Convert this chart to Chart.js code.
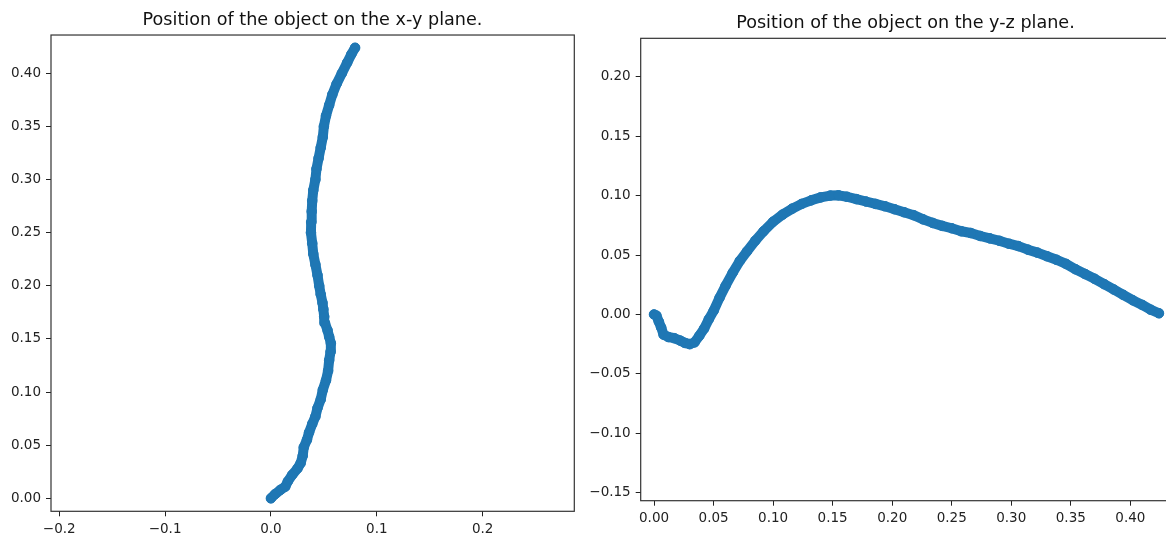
<!DOCTYPE html>
<html>
<head>
<meta charset="utf-8">
<title>Position of the object</title>
<script src="https://cdn.jsdelivr.net/npm/chart.js@4.4.1/dist/chart.umd.min.js"></script>
<style>
  body { margin: 0; background: #fff; overflow: hidden; }
  #wrap { position: relative; width: 1166px; height: 538px; overflow: hidden; }
  canvas { position: absolute; top: 0; }
</style>
</head>
<body>
<div id="wrap">
  <canvas id="xy-chart" width="625" height="538" style="left:0"></canvas>
  <canvas id="yz-chart" width="651" height="538" style="left:580px"></canvas>
</div>
<script>
// x-y plane
const xyY = [0, 0.004, 0.008, 0.011, 0.016, 0.022, 0.028, 0.033, 0.040, 0.048,
  0.055, 0.062, 0.070, 0.077, 0.085, 0.093, 0.102, 0.111, 0.120, 0.130,
  0.138, 0.146, 0.152, 0.158, 0.165, 0.171, 0.178, 0.184, 0.192, 0.200,
  0.210, 0.220, 0.230, 0.240, 0.250, 0.260, 0.270, 0.280, 0.290, 0.300,
  0.310, 0.320, 0.330, 0.340, 0.350, 0.360, 0.370, 0.380, 0.390, 0.400,
  0.410, 0.418, 0.424];
const xyX = [0, 0.004, 0.009, 0.0135, 0.016, 0.020, 0.025, 0.028, 0.030, 0.031,
  0.034, 0.036, 0.039, 0.042, 0.044, 0.047, 0.049, 0.052, 0.054, 0.055,
  0.0563, 0.0566, 0.055, 0.0535, 0.051, 0.0503, 0.0495, 0.0487, 0.047, 0.0456,
  0.044, 0.042, 0.040, 0.039, 0.0378, 0.038, 0.0385, 0.039, 0.040, 0.042,
  0.043, 0.045, 0.047, 0.049, 0.050, 0.052, 0.055, 0.058, 0.062, 0.067,
  0.072, 0.076, 0.0795];

// y-z plane
const yzY = [0, 0.002, 0.004, 0.006, 0.008, 0.012, 0.017, 0.022, 0.026, 0.030,
  0.034, 0.038, 0.042, 0.046, 0.050, 0.055, 0.060, 0.066, 0.072, 0.078,
  0.085, 0.092, 0.100, 0.108, 0.116, 0.124, 0.132, 0.140, 0.148, 0.155,
  0.162, 0.170, 0.178, 0.186, 0.194, 0.202, 0.210, 0.218, 0.226, 0.234,
  0.242, 0.250, 0.258, 0.266, 0.274, 0.282, 0.290, 0.298, 0.306, 0.314,
  0.322, 0.330, 0.338, 0.346, 0.354, 0.362, 0.370, 0.378, 0.386, 0.394,
  0.402, 0.410, 0.417, 0.424];
const yzZ = [0, -0.001, -0.006, -0.011, -0.017, -0.019, -0.020, -0.022, -0.024, -0.025,
  -0.0235, -0.018, -0.012, -0.004, 0.003, 0.014, 0.024, 0.035, 0.045, 0.053,
  0.062, 0.070, 0.078, 0.084, 0.089, 0.093, 0.096, 0.0985, 0.100, 0.1002,
  0.099, 0.097, 0.095, 0.093, 0.091, 0.0885, 0.086, 0.0835, 0.080, 0.077,
  0.0745, 0.0725, 0.070, 0.0685, 0.066, 0.064, 0.062, 0.0595, 0.0575, 0.0545,
  0.052, 0.049, 0.046, 0.0425, 0.038, 0.034, 0.030, 0.0255, 0.021, 0.0165,
  0.012, 0.008, 0.004, 0.001];

// tick values
const xyXTicks = [-0.2, -0.1, 0, 0.1, 0.2];
const xyYTicks = [0, 0.05, 0.10, 0.15, 0.20, 0.25, 0.30, 0.35, 0.40];
const yzXTicks = [0, 0.05, 0.10, 0.15, 0.20, 0.25, 0.30, 0.35, 0.40];
const yzYTicks = [-0.15, -0.10, -0.05, 0, 0.05, 0.10, 0.15, 0.20];

const BLUE = '#1f77b4';
const INK = '#222';
const FONT = 'DejaVu Sans';

// matplotlib style label: fixed digits, real minus sign
function fmt(v, digits) {
  return v.toFixed(digits).replace('-', '\u2212');
}

// full box round the plot area
const framePlugin = {
  id: 'frame',
  afterDraw(chart) {
    const { ctx, chartArea: a } = chart;
    ctx.save();
    ctx.strokeStyle = '#333';
    ctx.lineWidth = 1.2;
    ctx.strokeRect(a.left, a.top, a.right - a.left, a.bottom - a.top);
    ctx.restore();
  }
};

function axis(min, max, ticks, digits, size, isX) {
  return {
    type: 'linear',
    min, max,
    afterBuildTicks: s => { s.ticks = ticks.map(v => ({ value: v })); },
    afterFit: s => { if (isX) s.height = size; else s.width = size; },
    border: { display: false },
    grid: { drawOnChartArea: false, drawTicks: true, tickLength: 5, tickColor: INK, tickWidth: 1 },
    ticks: {
      font: { family: FONT, size: 13.5 },
      color: INK,
      padding: 5,
      maxRotation: 0,
      autoSkip: false,
      callback: v => fmt(v, digits)
    }
  };
}

// empty scale on the right, only keeps the title centred over the plot box
function spacer(width) {
  return {
    type: 'linear',
    position: 'right',
    min: 0, max: 1,
    afterFit: s => { s.width = width; },
    border: { display: false },
    grid: { display: false },
    ticks: { display: false }
  };
}

function buildChart(id, xs, ys, cfg) {
  const points = xs.map((x, i) => ({ x, y: ys[i] }));
  return new Chart(document.getElementById(id), {
    type: 'scatter',
    data: {
      datasets: [{
        data: points,
        showLine: true,
        borderColor: BLUE,
        borderWidth: 10,
        borderCapStyle: 'round',
        borderJoinStyle: 'round',
        backgroundColor: BLUE,
        pointRadius: 4.8,
        pointBorderWidth: 1,
        pointBorderColor: BLUE,
        pointBackgroundColor: BLUE
      }]
    },
    options: {
      responsive: false,
      animation: false,
      devicePixelRatio: 1,
      layout: { padding: 0 },
      plugins: {
        legend: { display: false },
        tooltip: { enabled: false },
        title: {
          display: true,
          text: cfg.title,
          color: '#111',
          font: { family: FONT, size: 17.6, weight: 'normal' },
          padding: cfg.titlePad
        }
      },
      scales: { x: cfg.x, y: cfg.y, right: spacer(cfg.rightGap) }
    },
    plugins: [framePlugin]
  });
}

buildChart('xy-chart', xyX, xyY, {
  title: 'Position of the object on the x-y plane.',
  titlePad: { top: 9.4, bottom: 4.5 },
  rightGap: 50.7,
  x: axis(-0.2078, 0.2866, xyXTicks, 1, 26.7, true),
  y: axis(-0.0122, 0.436, xyYTicks, 2, 51, false)
});

buildChart('yz-chart', yzY, yzZ, {
  title: 'Position of the object on the y-z plane.',
  titlePad: { top: 12.4, bottom: 4.8 },
  rightGap: 61,
  x: axis(-0.0112, 0.4333, yzXTicks, 2, 37.3, true),
  y: axis(-0.1567, 0.2323, yzYTicks, 2, 60.7, false)
});
</script>
</body>
</html>
